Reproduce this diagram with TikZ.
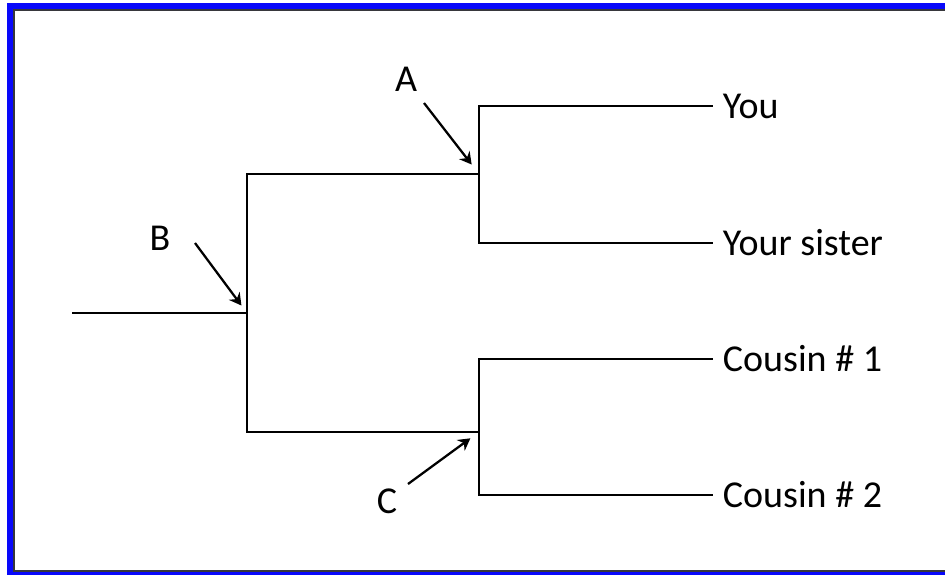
\documentclass[tikz,border=0pt]{standalone}
\usepackage{fontspec}
\setmainfont{Carlito}
\usepackage{tikz}
\usepackage{xcolor}
\usetikzlibrary{arrows.meta}

\definecolor{frameblue}{RGB}{8,8,250}
\definecolor{framegray}{RGB}{55,55,60}

\tikzset{
  branch/.style={line width=2.1pt, line cap=rect},
  pointer/.style={line width=1.7pt, -{Stealth[length=9pt,width=10pt,inset=3pt]}},
  leaf/.style={anchor=west, inner xsep=8pt, inner ysep=0pt, font=\fontsize{28.5}{33}\selectfont},
  tag/.style={inner sep=0pt, font=\fontsize{28.5}{33}\selectfont}
}

\begin{document}
\begin{tikzpicture}[x=0.75pt,y=0.75pt,yscale=-1,xscale=1]
\useasboundingbox (0,0) rectangle (945,575);

%Shape: Frame
\fill[frameblue] (7,3) rectangle (13,575);
\fill[frameblue] (7,3) rectangle (945,9);
\fill[frameblue] (7,572) rectangle (945,575);
\fill[framegray] (13,9) rectangle (15,572);
\fill[framegray] (13,9) rectangle (945,11);
\fill[framegray] (13,570) rectangle (945,572);

%Junctions
\coordinate (root) at (73,313);
\coordinate (nB) at (247,313);
\coordinate (nA) at (479,174);
\coordinate (nC) at (479,432);

% Text Node
\node[leaf] (you) at (712,106) {You};
% Text Node
\node[leaf] (sister) at (712,243) {Your sister};
% Text Node
\node[leaf] (cous1) at (712,359) {Cousin \# 1};
% Text Node
\node[leaf] (cous2) at (712,495) {Cousin \# 2};

%Straight Lines
\draw[branch] (root) -- (nB);
\draw[branch] (nA) -| (nB) |- (nC);
\draw[branch] (you.west) -| (nA) |- (sister.west);
\draw[branch] (cous1.west) -| (nC) |- (cous2.west);

% Text Node
\node[tag] (lblA) at (406,79) {A};
% Text Node
\node[tag] (lblB) at (160,238) {B};
% Text Node
\node[tag] (lblC) at (387,501) {C};

%Arrows
\coordinate (tailA) at (424,103);
\coordinate (tailB) at (195,243);
\coordinate (tailC) at (408,484);
\draw[pointer, shorten >=9pt] (tailA) -- (nA);
\draw[pointer, shorten >=7pt] (tailB) -- (nB);
\draw[pointer, shorten >=8pt] (tailC) -- (nC);

\end{tikzpicture}
\end{document}
